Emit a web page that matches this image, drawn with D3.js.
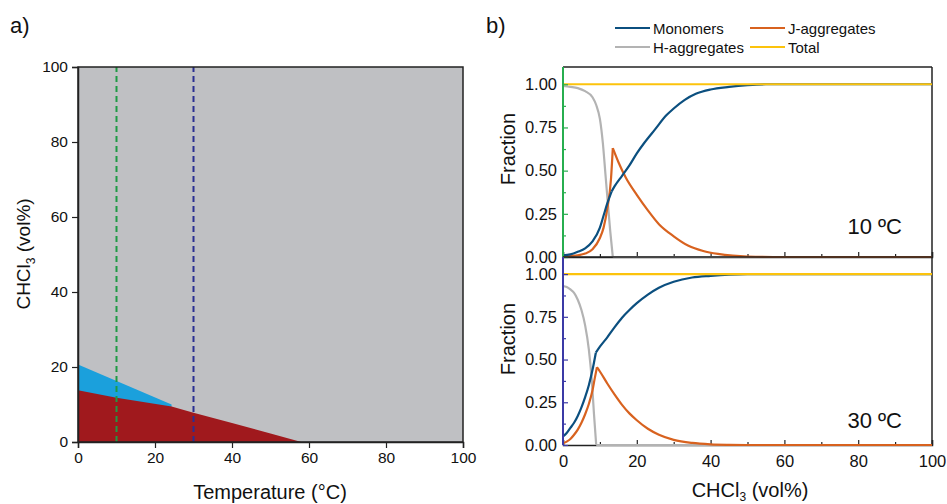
<!DOCTYPE html>
<html><head><meta charset="utf-8">
<script src="https://cdn.jsdelivr.net/npm/d3@7/dist/d3.min.js"></script>
<style>body{margin:0;background:#fff}svg{font-family:"Liberation Sans",Arial,sans-serif}</style>
</head><body><svg id="c" width="947" height="504"></svg>
<script>
// ---------- Panel a: phase diagram ----------
const temperatureTicks = [0,20,40,60,80,100];
const chclTicks = [0,20,40,60,80,100];
// Red region upper boundary (Temperature, CHCl3 vol%)
const redT = [0,10,24.3,30,40,50,58];
const redC = [13.8,11.8,9.5,7.8,5.1,2.3,0];
// Blue region upper boundary
const blueT = [0,24.3];
const blueC = [20.7,10.0];
// Dashed temperature cuts
const cutTemps = [10,30];

// ---------- Panel b: fractions ----------
const fracTicks = [0,0.25,0.5,0.75,1.0];
const volTicks = [0,20,40,60,80,100];
// 10 C
const mono10X = [0,2,4,6,8,10,11,12,13.2,14,16,18,20,22,25,28,30,33,36,40,45,50,55,60,100];
const mono10Y = [0.01,0.015,0.03,0.05,0.09,0.17,0.24,0.31,0.38,0.41,0.47,0.53,0.60,0.66,0.74,0.82,0.86,0.91,0.945,0.97,0.985,0.995,1.0,1.0,1.0];
const mono10K = 8;
const jagg10X = [0,2,4,6,8,10,11,12,13,13.5,15,17,20,23,26,30,34,38,42,46,50,60,100];
const jagg10Y = [0.0,0.005,0.01,0.02,0.045,0.11,0.17,0.28,0.45,0.63,0.55,0.46,0.36,0.27,0.19,0.12,0.065,0.035,0.018,0.008,0.003,0,0];
const jagg10K = 9;
const hagg10X = [0,2,4,6,8,9,10,10.8,11.5,12.2,12.8,13.5,100];
const hagg10Y = [0.99,0.985,0.978,0.96,0.925,0.88,0.80,0.66,0.48,0.30,0.15,0,0];
const hagg10K = 11;
// 30 C
const mono30X = [0,1,2,3,4,5,6,7,8,8.9,10,12,14,16,18,20,23,26,30,35,40,45,50,100];
const mono30Y = [0.05,0.07,0.10,0.13,0.17,0.22,0.28,0.35,0.44,0.54,0.575,0.63,0.69,0.745,0.79,0.83,0.88,0.92,0.955,0.98,0.99,0.997,1.0,1.0];
const mono30K = 9;
const jagg30X = [0,1,2,3,4,5,6,7,8,8.6,9.2,10,12,14,16,18,20,23,26,30,35,40,45,50,100];
const jagg30Y = [0.01,0.02,0.035,0.06,0.09,0.13,0.18,0.24,0.32,0.39,0.455,0.43,0.36,0.295,0.235,0.185,0.145,0.095,0.06,0.03,0.012,0.004,0.001,0,0];
const jagg30K = 10;
const hagg30X = [0,1,2,3,4,5,6,7,7.8,8.4,9.0,100];
const hagg30Y = [0.93,0.925,0.91,0.89,0.85,0.79,0.70,0.56,0.38,0.18,0,0];
const hagg30K = 10;
const totalX = [0,100];
const totalY = [1,1];

const legendNames = ["Monomers","J-aggregates","H-aggregates","Total"];
const colors = {mono:"#0b4f7f", jagg:"#d8621f", hagg:"#b3b3b3", total:"#fcc30c"};

const svg = d3.select("#c");
const FF = "Liberation Sans, Arial, sans-serif";

// ================= Panel a =================
const xa = d3.scaleLinear().domain([0,100]).range([78,463]);
const ya = d3.scaleLinear().domain([0,100]).range([442,67]);
const ga = svg.append("g");
ga.append("rect").attr("x",xa(0)).attr("y",ya(100)).attr("width",xa(100)-xa(0)).attr("height",ya(0)-ya(100)).attr("fill","#bfc0c3");
const poly = d3.line().x(d=>xa(d[0])).y(d=>ya(d[1]));
const bluePts = blueT.map((t,i)=>[t,blueC[i]]).concat([[blueT[1],0],[0,0]]);
ga.append("path").attr("d",poly(bluePts)+"Z").attr("fill","#1ba0dc");
const redPts = redT.map((t,i)=>[t,redC[i]]).concat([[0,0]]);
ga.append("path").attr("d",poly(redPts)+"Z").attr("fill","#a0191d");
const cutColors = ["#1e9a44","#2a2f92"];
cutTemps.forEach((t,i)=>{
  ga.append("line").attr("x1",xa(t)).attr("x2",xa(t)).attr("y1",ya(0)).attr("y2",ya(100))
    .attr("stroke",cutColors[i]).attr("stroke-width",2).attr("stroke-dasharray","6,4");
});
ga.append("rect").attr("x",xa(0)).attr("y",ya(100)).attr("width",xa(100)-xa(0)).attr("height",ya(0)-ya(100)).attr("fill","none").attr("stroke","#222").attr("stroke-width",1.5);
const axAx = ga.append("g").attr("transform",`translate(0,${ya(0)})`).call(d3.axisBottom(xa).tickValues(temperatureTicks).tickSize(6).tickPadding(4));
const axAy = ga.append("g").attr("transform",`translate(${xa(0)},0)`).call(d3.axisLeft(ya).tickValues(chclTicks).tickSize(6).tickPadding(4));
[axAx,axAy].forEach(a=>{a.select(".domain").attr("stroke","#222").attr("stroke-width",1.5);a.selectAll(".tick line").attr("stroke","#222").attr("stroke-width",1.2);a.selectAll("text").attr("font-size",15.5).attr("fill","#111").attr("font-family",FF);});
svg.append("text").attr("x",270).attr("y",499).attr("text-anchor","middle").attr("font-size",20).attr("fill","#111").text("Temperature (°C)");
const yt = svg.append("text").attr("transform","translate(30,254) rotate(-90)").attr("text-anchor","middle").attr("font-size",19).attr("fill","#111");
yt.append("tspan").text("CHCl");
yt.append("tspan").attr("font-size",12).attr("dy",5).text("3");
yt.append("tspan").attr("dy",-5).text(" (vol%)");
svg.append("text").attr("x",10).attr("y",33).attr("font-size",22).attr("fill","#111").text("a)");
svg.append("text").attr("x",486).attr("y",33).attr("font-size",22).attr("fill","#111").text("b)");

// ================= Panel b =================
const xb = d3.scaleLinear().domain([0,100]).range([563,932]);
const panels = [
  {y:d3.scaleLinear().domain([0,1.1]).range([257,67]), axisColor:"#27ae4f", label:"10 ºC", labelY:234, fracY:149,
   series:[["hagg",hagg10X,hagg10Y,hagg10K],["jagg",jagg10X,jagg10Y,jagg10K],["mono",mono10X,mono10Y,mono10K]], bottomLabels:false},
  {y:d3.scaleLinear().domain([0,1.1]).range([445,257]), axisColor:"#3b3aa6", label:"30 ºC", labelY:428, fracY:339,
   series:[["hagg",hagg30X,hagg30Y,hagg30K],["jagg",jagg30X,jagg30Y,jagg30K],["mono",mono30X,mono30Y,mono30K]], bottomLabels:true}
];
panels.forEach((p,pi)=>{
  const g = svg.append("g");
  const y = p.y;
  const y0 = y(0), y1 = y(1.1);
  g.append("line").attr("x1",xb(0)).attr("x2",xb(100)).attr("y1",y1).attr("y2",y1).attr("stroke","#222").attr("stroke-width",1.5);
  g.append("line").attr("x1",xb(100)).attr("x2",xb(100)).attr("y1",y1).attr("y2",y0).attr("stroke","#222").attr("stroke-width",1.5);
  const xa2 = g.append("g").attr("transform",`translate(0,${y0})`)
    .call(d3.axisBottom(xb).tickValues(volTicks).tickSize(-5).tickPadding(10).tickFormat(p.bottomLabels? d3.format("d") : ""));
  xa2.select(".domain").attr("stroke","#222").attr("stroke-width",1.5);
  xa2.selectAll(".tick line").attr("stroke","#222").attr("stroke-width",1.2);
  xa2.selectAll("text").attr("font-size",16.5).attr("fill","#111").attr("font-family",FF);
  const minor = g.append("g").attr("transform",`translate(0,${y0})`)
    .call(d3.axisBottom(xb).tickValues([10,30,50,70,90]).tickSize(-3).tickFormat(""));
  minor.select(".domain").remove();
  minor.selectAll(".tick line").attr("stroke","#222").attr("stroke-width",1.2);
  const line = d3.line().x(d=>xb(d[0])).y(d=>y(d[1])).curve(d3.curveMonotoneX);
  p.series.forEach(([key,xs,ys,k])=>{
    const pts = xs.map((x,i)=>[x,ys[i]]);
    [pts.slice(0,k+1), pts.slice(k)].forEach(seg=>{
      g.append("path").attr("d",line(seg)).attr("fill","none").attr("stroke",colors[key]).attr("stroke-width",2.2).attr("stroke-linejoin","round");
    });
  });
  g.append("path").attr("d",line(totalX.map((x,i)=>[x,totalY[i]]))).attr("fill","none").attr("stroke",colors.total).attr("stroke-width",2.2);
  const ya2 = g.append("g").attr("transform",`translate(${xb(0)},0)`)
    .call(d3.axisLeft(y).tickValues(fracTicks).tickSize(-5).tickPadding(6).tickFormat(d3.format(".2f")));
  ya2.select(".domain").attr("stroke",p.axisColor).attr("stroke-width",2).attr("d",`M0,${y0}V${y1}`);
  ya2.selectAll(".tick line").attr("stroke",p.axisColor).attr("stroke-width",1.2);
  ya2.selectAll("text").attr("font-size",16.5).attr("fill","#111").attr("font-family",FF);
  const yminor = g.append("g").attr("transform",`translate(${xb(0)},0)`)
    .call(d3.axisLeft(y).tickValues([0.125,0.375,0.625,0.875]).tickSize(-3).tickFormat(""));
  yminor.select(".domain").remove();
  yminor.selectAll(".tick line").attr("stroke",p.axisColor).attr("stroke-width",1.2);
  g.append("text").attr("x",902).attr("y",p.labelY).attr("text-anchor","end").attr("font-size",22).attr("fill","#111").text(p.label);
  g.append("text").attr("transform",`translate(515,${p.fracY}) rotate(-90)`).attr("text-anchor","middle").attr("font-size",20).attr("fill","#111").text("Fraction");
});
const xt = svg.append("text").attr("x",750).attr("y",497).attr("text-anchor","middle").attr("font-size",20).attr("fill","#111");
xt.append("tspan").text("CHCl");
xt.append("tspan").attr("font-size",12).attr("dy",4).text("3");
xt.append("tspan").attr("dy",-4).text(" (vol%)");

// legend
const legendKeys = ["mono","jagg","hagg","total"];
const legX = [615,750,615,750], legYs = [28,28,47,47];
legendKeys.forEach((k,i)=>{
  const lx = legX[i], ly = legYs[i];
  svg.append("line").attr("x1",lx).attr("x2",lx+35).attr("y1",ly).attr("y2",ly).attr("stroke",colors[k]).attr("stroke-width",2.2);
  svg.append("text").attr("x",lx+38).attr("y",ly+5.5).attr("font-size",15).attr("fill","#111").text(legendNames[i]);
});
</script></body></html>
